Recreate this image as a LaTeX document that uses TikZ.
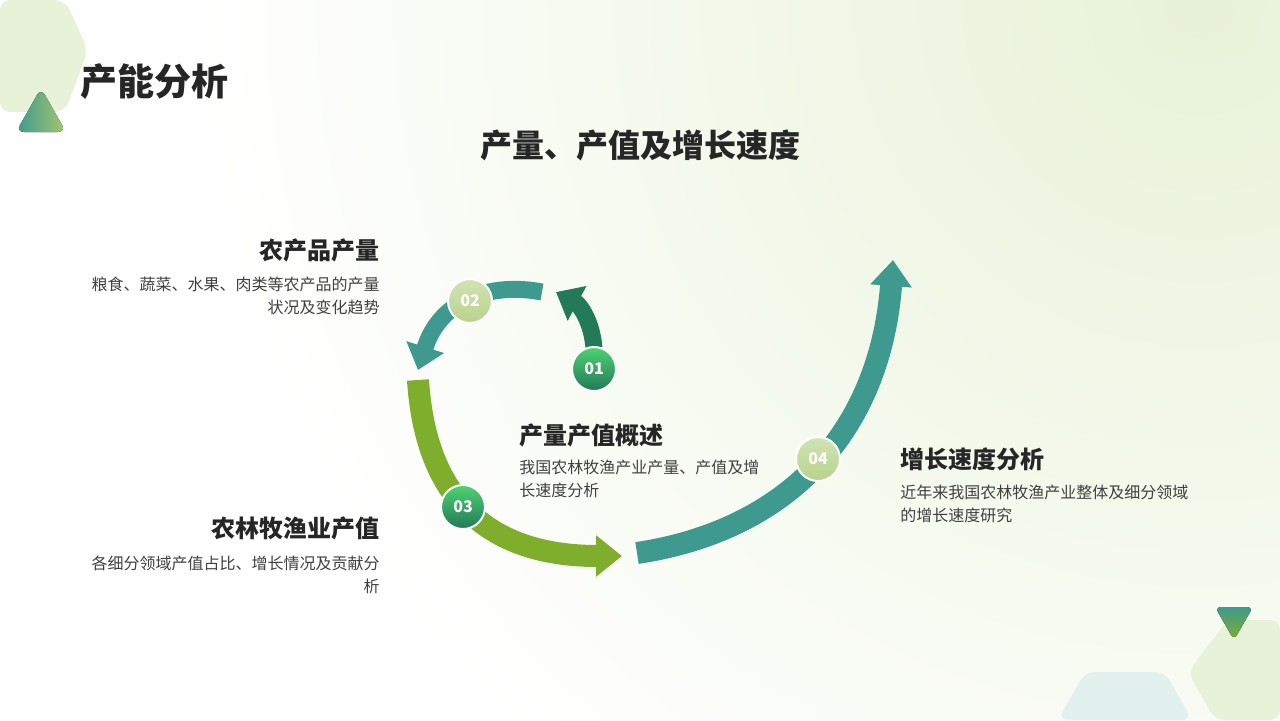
\documentclass[tikz,border=0pt]{standalone}
\usepackage{fontspec}
\setmainfont{Noto Sans CJK SC}
\usetikzlibrary{arrows.meta}
\definecolor{teal}{HTML}{3E9A8E}
\definecolor{dkgreen}{HTML}{227A58}
\definecolor{lgreen}{HTML}{7FAE2C}
\definecolor{pale}{HTML}{E8F2D8}
\definecolor{txt}{HTML}{262626}
\definecolor{body}{HTML}{404040}
\tikzset{
  bigarrow/.style={line width=11pt,-{Triangle[width=20pt,length=13pt]}},
  smallarrow/.style={line width=8.5pt,-{Triangle[width=19pt,length=12pt]}},
  darkdot/.style={circle,minimum size=22pt,inner sep=0pt,draw=white,line width=1pt,
    top color=green!45!teal!80!white,bottom color=dkgreen,text=white,font=\bfseries\fontsize{8}{8}\selectfont},
  lightdot/.style={circle,minimum size=22pt,inner sep=0pt,draw=white,line width=1pt,
    top color=lgreen!35!white,bottom color=lgreen!55!white,text=white,font=\bfseries\fontsize{8}{8}\selectfont},
  heading/.style={text=txt,font=\bfseries\fontsize{12}{14}\selectfont,inner sep=0pt},
  bodytext/.style={text=body,font=\fontsize{8}{11.5}\selectfont,inner sep=0pt}
}
\begin{document}
\begin{tikzpicture}[x=0.5pt,y=-0.5pt]
\useasboundingbox (0,0) rectangle (1280,720);
% background
\fill[white] (0,0) rectangle (1280,720);
\begin{scope}
\clip (0,0) rectangle (1280,720);
\shade[inner color=pale,outer color=white] (1200,0) circle (1000);
\end{scope}
% corner shapes
\fill[pale,rounded corners=5pt] (0,0) -- (65,0) -- (88,50) -- (65,112) -- (0,112) -- cycle;
\fill[left color=teal,right color=lgreen!70!white,rounded corners=4pt] (16,132) -- (41,88) -- (66,132) -- cycle;
\fill[pale,rounded corners=5pt] (1228,620) -- (1280,620) -- (1280,720) -- (1215,720) -- (1188,672) -- cycle;
\fill[teal!15,rounded corners=5pt] (1058,720) -- (1085,672) -- (1165,672) -- (1192,720) -- cycle;
\fill[top color=teal,bottom color=lgreen,rounded corners=3pt] (1215,607) -- (1253,607) -- (1234,640) -- cycle;
% titles
\node[anchor=west,text=txt,font=\bfseries\fontsize{18.5}{20}\selectfont,inner sep=0pt] (title) at (80,82) {产能分析};
\node[text=txt,font=\bfseries\fontsize{16}{18}\selectfont,inner sep=0pt] (subtitle) at (640,145) {产量、产值及增长速度};
% arrows
\coordinate (s1) at (594,348);
\coordinate (e1) at (556,292);
\coordinate (s2) at (542,292);
\coordinate (e2) at (418,370);
\coordinate (s3) at (418,380);
\coordinate (e3) at (622,556);
\coordinate (s4) at (637,553);
\coordinate (e4) at (893,260);
\draw[smallarrow,dkgreen] (s1) .. controls (592,322) and (580,305) .. (e1);
\draw[smallarrow,teal] (s2) .. controls (490,282) and (440,300) .. (e2);
\draw[bigarrow,lgreen] (s3) .. controls (425,490) and (480,556) .. (e3);
\draw[bigarrow,teal] (s4) .. controls (790,530) and (880,430) .. (e4);
% step dots
\node[darkdot] (d1) at (594,369) {01};
\node[lightdot] (d2) at (470,301) {02};
\node[darkdot] (d3) at (463,507) {03};
\node[lightdot] (d4) at (818,459) {04};
% labels
\node[heading,anchor=east] (h2) at (380,250) {农产品产量};
\node[bodytext,anchor=north east,align=right] (b2) at (380,277) {粮食、蔬菜、水果、肉类等农产品的产量\\状况及变化趋势};
\node[heading,anchor=east] (h3) at (380,528) {农林牧渔业产值};
\node[bodytext,anchor=north east,align=right] (b3) at (380,556) {各细分领域产值占比、增长情况及贡献分\\析};
\node[heading,anchor=west] (h1) at (519,435) {产量产值概述};
\node[bodytext,anchor=north west,align=left] (b1) at (519,460) {我国农林牧渔产业产量、产值及增\\长速度分析};
\node[heading,anchor=west] (h4) at (900,459) {增长速度分析};
\node[bodytext,anchor=north west,align=left] (b4) at (900,485) {近年来我国农林牧渔产业整体及细分领域\\的增长速度研究};
\end{tikzpicture}
\end{document}
